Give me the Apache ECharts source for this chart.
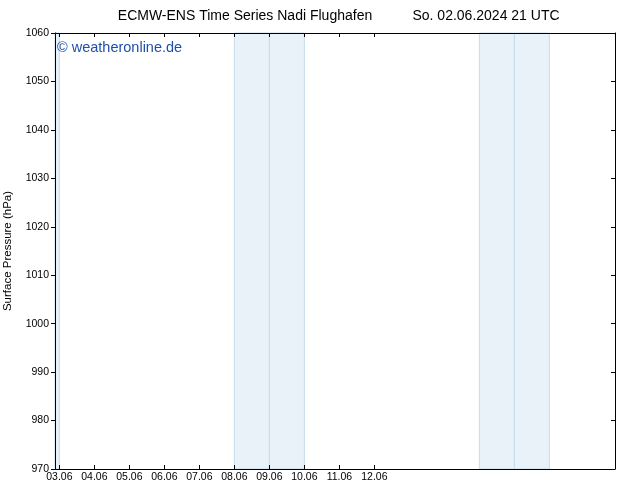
<!DOCTYPE html>
<html><head><meta charset="utf-8">
<script src="https://cdn.jsdelivr.net/npm/echarts@6/dist/echarts.min.js"></script>
<style>html,body{margin:0;padding:0;background:#fff}#c{width:634px;height:490px}</style>
</head><body><div id="c"></div>
<script>
// x in days since 03.06.2024 00 UTC
var tickDays = [0,1,2,3,4,5,6,7,8,9];
var tickLabels = ['03.06','04.06','05.06','06.06','07.06','08.06','09.06','10.06','11.06','12.06'];
var xMin = -0.125, xMax = 15.875;
var bandStarts = [-0.125, 5, 6, 12, 13];
var bandEnds   = [0, 6, 7, 13, 14];
var yMin = 970, yMax = 1060, yStep = 10;
var seriesValues = [];

var font = 'Liberation Sans';
var chart = echarts.init(document.getElementById('c'), null, {renderer:'canvas'});
var areas = bandStarts.map(function(s,i){ return [{xAxis:s},{xAxis:bandEnds[i]}]; });
var axLine = {show:true, onZero:false, lineStyle:{color:'#000', width:1}};
chart.setOption({
  animation:false,
  backgroundColor:'#fff',
  title:[
    {text:'ECMW-ENS Time Series Nadi Flughafen', left:240, top:4, textAlign:'center',
     textStyle:{fontFamily:font, fontSize:14, fontWeight:'normal', color:'#000'}},
    {text:'So. 02.06.2024 21 UTC', left:481, top:4, textAlign:'center',
     textStyle:{fontFamily:font, fontSize:14, fontWeight:'normal', color:'#000'}}
  ],
  grid:{left:55, right:19, top:33, bottom:21, show:false, containLabel:false, outerBoundsMode:'none'},
  xAxis:[
    {type:'value', position:'bottom', min:xMin, max:xMax, z:10,
     axisLine:axLine, splitLine:{show:false},
     axisTick:{show:true, inside:true, length:4, customValues:tickDays, lineStyle:{color:'#000'}},
     axisLabel:{customValues:tickDays, margin:3, fontFamily:font, fontSize:10.5, color:'#000',
       formatter:function(v){ var i=tickDays.indexOf(Math.round(v)); return i>=0?tickLabels[i]:''; }}},
    {type:'value', position:'top', min:xMin, max:xMax, z:10,
     axisLine:axLine, splitLine:{show:false},
     axisTick:{show:true, inside:true, length:4, customValues:tickDays, lineStyle:{color:'#000'}},
     axisLabel:{show:false}}
  ],
  yAxis:[
    {type:'value', position:'left', min:yMin, max:yMax, interval:yStep, z:10,
     name:'Surface Pressure (hPa)', nameLocation:'middle', nameGap:41, nameRotate:90,
     nameTextStyle:{fontFamily:font, fontSize:11.5, color:'#000'},
     axisLine:axLine, splitLine:{show:false},
     axisTick:{show:true, inside:false, length:4, lineStyle:{color:'#000'}},
     axisLabel:{margin:6, fontFamily:font, fontSize:10.5, color:'#000',
       formatter:function(v){ return String(v); }}},
    {type:'value', position:'right', min:yMin, max:yMax, interval:yStep, z:10,
     axisLine:axLine, splitLine:{show:false},
     axisTick:{show:true, inside:true, length:4, lineStyle:{color:'#000'}},
     axisLabel:{show:false}}
  ],
  series:[{
    type:'line', data:seriesValues, silent:true, z:1,
    markArea:{silent:true, itemStyle:{color:'#e9f1f9', borderColor:'#c6dcec', borderWidth:1}, data:areas}
  }],
  graphic:[{type:'text', left:57, top:40, z:100,
    style:{text:'\u00a9 weatheronline.de', fontFamily:font, fontSize:14.5, fill:'#1f4fa8'}}]
});
</script></body></html>
